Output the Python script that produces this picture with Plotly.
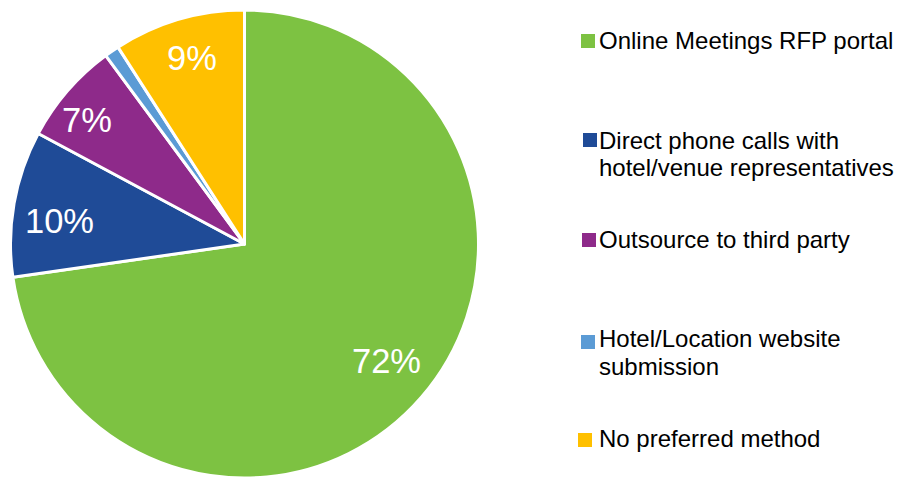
import math
import plotly.graph_objects as go

categories = [
    "Online Meetings RFP portal",
    "Direct phone calls with<br>hotel/venue representatives",
    "Outsource to third party",
    "Hotel/Location website<br>submission",
    "No preferred method",
]
values = [72, 10, 7, 1, 9]
slice_labels = ["72%", "10%", "7%", "", "9%"]
colors = ["#7DC242", "#1F4B97", "#8E2A8A", "#5B9BD5", "#FFC000"]

W, H = 899, 478
FONT = "Liberation Sans, Arial, sans-serif"

# pie geometry (pixels from top-left)
dom_x = [10 / W, 479 / W]
dom_y = [0, 1 - 10 / H]
cx_px = (dom_x[0] + dom_x[1]) / 2 * W
cy_px = H - (dom_y[0] + dom_y[1]) / 2 * H
r_px = min((dom_x[1] - dom_x[0]) * W, (dom_y[1] - dom_y[0]) * H) / 2

fig = go.Figure()
fig.add_trace(go.Pie(
    labels=[c.replace("<br>", " ") for c in categories],
    values=values,
    textinfo="none",
    marker=dict(colors=colors, line=dict(color="white", width=3)),
    sort=False,
    direction="clockwise",
    rotation=0,
    hoverinfo="label+percent",
    showlegend=False,
    domain=dict(x=dom_x, y=dom_y),
))

annotations = []
shapes = []

# slice labels placed along each slice's mid-angle (radius fraction, angle tweak in degrees)
label_r = [0.786, 0.797, 0.858, 0.8, 0.826]
label_da = [-1.4, -2.9, -2.8, 0, 0.6]
total = sum(values)
cum = 0
for v, t, fr, da in zip(values, slice_labels, label_r, label_da):
    mid = (cum + v / 2) / total * 2 * math.pi + math.radians(da)
    cum += v
    if not t:
        continue
    x = cx_px + fr * r_px * math.sin(mid)
    y = cy_px - fr * r_px * math.cos(mid)
    annotations.append(dict(text=t, xref="paper", yref="paper",
                            x=x / W, y=1 - y / H, xanchor="center", yanchor="middle",
                            showarrow=False,
                            font=dict(family=FONT, size=34.5, color="white")))

# legend drawn as squares + text
legend_rows = [  # (square center y, line center ys) in px from top
    (41, [41.7]),
    (140, [141.7, 168.0]),
    (240, [240.8]),
    (342, [339.5, 367.2]),
    (440, [439.7]),
]
square_x = [588, 590, 589, 588, 585]
for i, (cat, col) in enumerate(zip(categories, colors)):
    sq_y, line_ys = legend_rows[i]
    sx = square_x[i]
    shapes.append(dict(type="rect", xref="paper", yref="paper",
                       x0=(sx - 7) / W, x1=(sx + 7) / W,
                       y0=1 - (sq_y + 7) / H, y1=1 - (sq_y - 7) / H,
                       fillcolor=col, line=dict(width=0)))
    for line, ly in zip(cat.split("<br>"), line_ys):
        annotations.append(dict(text=line, xref="paper", yref="paper",
                                x=597 / W, y=1 - (ly - 1) / H, xanchor="left", yanchor="middle",
                                showarrow=False,
                                font=dict(family=FONT, size=24, color="#000000")))

fig.update_layout(
    width=W, height=H,
    margin=dict(l=0, r=0, t=0, b=0, pad=0),
    paper_bgcolor="white",
    plot_bgcolor="white",
    shapes=shapes,
    annotations=annotations,
)

fig.write_html("out.html",
               config={"displayModeBar": False},
               post_script="document.body.style.margin='0';document.body.style.padding='0';document.body.style.overflow='hidden';")
